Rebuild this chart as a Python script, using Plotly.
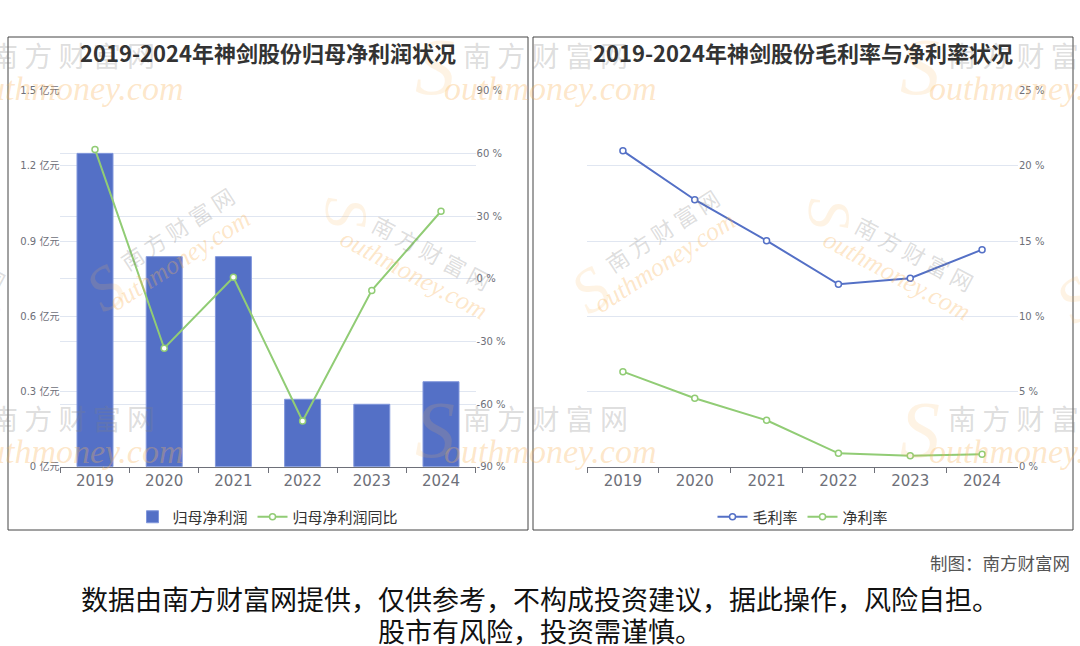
import plotly.graph_objects as go

W, H = 1080, 646

years = ["2019", "2020", "2021", "2022", "2023", "2024"]
net_profit = [1.25, 0.838, 0.838, 0.269, 0.249, 0.339]        # 亿元
net_profit_yoy = [61.9, -33.3, 0.7, -68.1, -5.6, 32.3]        # %
gross_margin = [21.0, 17.75, 15.03, 12.13, 12.53, 14.43]      # %
net_margin = [6.32, 4.55, 3.09, 0.89, 0.73, 0.82]             # %

left_ticks = [0, 0.3, 0.6, 0.9, 1.2, 1.5]
left_ticktext = ["0 亿元", "0.3 亿元", "0.6 亿元", "0.9 亿元", "1.2 亿元", "1.5 亿元"]
yoy_ticks = [-90, -60, -30, 0, 30, 60, 90]
yoy_ticktext = ["-90 %", "-60 %", "-30 %", "0 %", "30 %", "60 %", "90 %"]
rate_ticks = [0, 5, 10, 15, 20, 25]
rate_ticktext = ["0 %", "5 %", "10 %", "15 %", "20 %", "25 %"]

BLUE = "#5470c6"
GREEN = "#91cc75"
AXIS = "#6e7079"
GRID = "#E0E6F1"
FONT = "Noto Sans CJK SC"
TICKFONT = "DejaVu Sans, Noto Sans CJK SC"
SERIF = "Liberation Serif, DejaVu Serif, serif"

def px(x):
    return x / W

def py(y):
    return (H - y) / H

fig = go.Figure()

fig.add_trace(go.Bar(
    x=years, y=net_profit, name="归母净利润", marker=dict(color=BLUE, line=dict(color="#8197dc", width=1)),
    width=0.52, xaxis="x", yaxis="y", legend="legend"))
fig.add_trace(go.Scatter(
    x=years, y=net_profit_yoy, name="归母净利润同比", mode="lines+markers",
    line=dict(color=GREEN, width=2),
    marker=dict(symbol="circle", size=6, color="white", line=dict(color=GREEN, width=1.5)),
    xaxis="x", yaxis="y2", legend="legend"))

fig.add_trace(go.Scatter(
    x=years, y=gross_margin, name="毛利率", mode="lines+markers",
    line=dict(color=BLUE, width=2),
    marker=dict(symbol="circle", size=6, color="white", line=dict(color=BLUE, width=1.5)),
    xaxis="x2", yaxis="y3", legend="legend2"))
fig.add_trace(go.Scatter(
    x=years, y=net_margin, name="净利率", mode="lines+markers",
    line=dict(color=GREEN, width=2),
    marker=dict(symbol="circle", size=6, color="white", line=dict(color=GREEN, width=1.5)),
    xaxis="x2", yaxis="y3", legend="legend2"))

ydom = [py(466.7), py(90.7)]

xaxis_common = dict(
    type="category", range=[-0.5, 5.5], showgrid=False, zeroline=False, showline=True,
    linecolor=AXIS, linewidth=1,
    ticks="outside", tickson="boundaries", ticklen=5, tickcolor=AXIS,
    tickfont=dict(size=15, color=AXIS, family=TICKFONT), fixedrange=True)

annotations = []
shapes = []

# ---- watermarks (faint, tiled like the original) ----
wm_gray = "rgba(128,128,128,0.27)"
wm_orange = "rgba(250,180,90,0.33)"
wm_swoosh = "rgba(250,180,90,0.16)"

def wm(x, y, text, color, size, angle=0, serif=False):
    annotations.append(dict(
        x=px(x), y=py(y), xref="paper", yref="paper", xanchor="center", yanchor="middle",
        text=("<i>%s</i>" % text) if serif else text,
        showarrow=False, textangle=angle,
        font=dict(size=size, color=color, family=SERIF if serif else FONT)))

# horizontal rows (top and bottom)
for row_y in [55, 418]:
    for cx in [72, 545, 1030]:
        wm(cx, row_y, "南 方 财 富 网", wm_gray, 28)
        wm(cx + 5, row_y + 33, "outhmoney.com", wm_orange, 34, serif=True)
        wm(cx - 110, row_y + 12, "S", wm_swoosh, 80, serif=True)

# rotated, rising to the right
for cx, cy in [(177, 228), (662, 230)]:
    wm(cx, cy, "南 方 财 富 网", wm_gray, 22, angle=-33)
    wm(cx + 2, cy + 32, "outhmoney.com", wm_orange, 26, angle=-33, serif=True)
    wm(cx - 72, cy + 60, "S", wm_swoosh, 62, angle=-33, serif=True)
wm(1075, 300, "S", wm_swoosh, 62, angle=-33, serif=True)

# rotated, falling to the right
for cx, cy in [(-53, 252), (432, 252), (915, 253)]:
    wm(cx, cy, "南 方 财 富 网", wm_gray, 22, angle=28)
    wm(cx - 18, cy + 22, "outhmoney.com", wm_orange, 26, angle=28, serif=True)
    wm(cx - 85, cy - 40, "S", wm_swoosh, 62, angle=90, serif=True)

# panel borders
shapes.append(dict(type="rect", xref="paper", yref="paper", x0=px(8), x1=px(528), y0=py(530), y1=py(37),
                   line=dict(color="#444", width=1), layer="below"))
shapes.append(dict(type="rect", xref="paper", yref="paper", x0=px(533), x1=px(1073), y0=py(530), y1=py(37),
                   line=dict(color="#444", width=1), layer="below"))

def txt(x, y, text, size, color, xanchor="center"):
    annotations.append(dict(x=px(x), y=py(y), xref="paper", yref="paper", xanchor=xanchor, yanchor="middle",
                            text=text, showarrow=False, font=dict(size=size, color=color, family=FONT)))

# titles
txt(268, 52, "<b>2019-2024年神剑股份归母净利润状况</b>", 22, "#333")
txt(803, 52, "<b>2019-2024年神剑股份毛利率与净利率状况</b>", 22, "#333")

# footer
txt(1072, 562, "制图：南方财富网", 17.5, "#555", xanchor="right")
txt(540, 598, "数据由南方财富网提供，仅供参考，不构成投资建议，据此操作，风险自担。", 27, "#111")
txt(540, 630, "股市有风险，投资需谨慎。", 27, "#111")

fig.update_layout(
    width=W, height=H, margin=dict(l=0, r=0, t=0, b=0, autoexpand=False),
    paper_bgcolor="white", plot_bgcolor="rgba(0,0,0,0)",
    font=dict(family=FONT),
    xaxis=dict(domain=[px(60.4), px(475.6)], anchor="y", **xaxis_common),
    yaxis=dict(domain=ydom, range=[0, 1.5], tickvals=left_ticks, ticktext=left_ticktext,
               showgrid=True, gridcolor=GRID, zeroline=False, showline=False,
               tickfont=dict(size=10, color=AXIS, family=TICKFONT), fixedrange=True),
    yaxis2=dict(domain=ydom, range=[-90, 90], tickvals=yoy_ticks, ticktext=yoy_ticktext,
                overlaying="y", side="right", anchor="x",
                showgrid=True, gridcolor=GRID, zeroline=False, showline=False,
                tickfont=dict(size=10, color=AXIS, family=TICKFONT), fixedrange=True),
    xaxis2=dict(domain=[px(587), px(1018)], anchor="y3", **xaxis_common),
    yaxis3=dict(domain=ydom, range=[0, 25], tickvals=rate_ticks, ticktext=rate_ticktext,
                side="right", anchor="x2",
                showgrid=True, gridcolor=GRID, zeroline=False, showline=False,
                tickfont=dict(size=10, color=AXIS, family=TICKFONT), fixedrange=True),
    legend=dict(orientation="h", x=px(268), xanchor="center", y=py(517), yanchor="middle",
                font=dict(size=15, color="#333", family=FONT), bgcolor="rgba(0,0,0,0)"),
    legend2=dict(orientation="h", x=px(803), xanchor="center", y=py(517), yanchor="middle",
                 font=dict(size=15, color="#333", family=FONT), bgcolor="rgba(0,0,0,0)"),
    annotations=annotations, shapes=shapes,
)

fig.write_html("out.html", config={"displayModeBar": False},
               post_script="document.body.style.margin='0px';document.body.style.overflow='hidden';")
